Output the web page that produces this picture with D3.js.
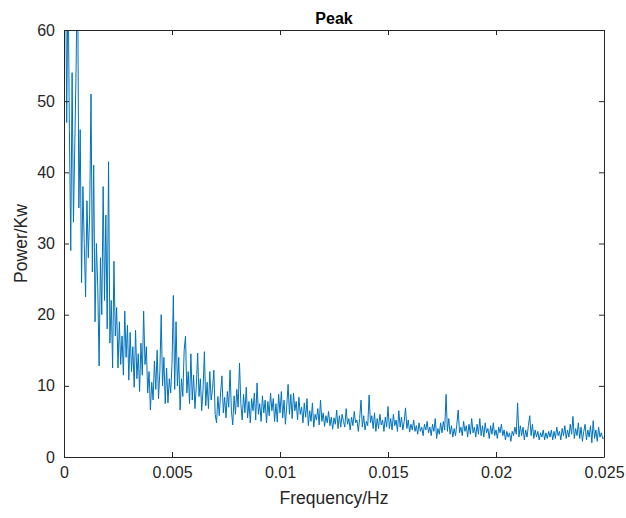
<!DOCTYPE html>
<html><head><meta charset="utf-8">
<script src="https://cdn.jsdelivr.net/npm/d3@7"></script>
<style>
html,body{margin:0;padding:0;background:#fff;}
svg{display:block;font-family:"Liberation Sans",Arial,Helvetica,sans-serif;}
</style></head>
<body><svg id="chart" width="626" height="518"></svg>
<script>
const chartTitle = "Peak";
const xLabel = "Frequency/Hz";
const yLabel = "Power/Kw";
const xTicks = [0, 0.005, 0.01, 0.015, 0.02, 0.025];
const xTickLabels = ["0", "0.005", "0.01", "0.015", "0.02", "0.025"];
const yTicks = [0, 10, 20, 30, 40, 50, 60];
const freqStep = 0.0000625; // Hz between spectrum samples
const power = [
52,75,47,68,46,29,54,33,44,55,72,35,46,24.5,38,30,22.5,36,28,34,
51,26,41,19,30,24,12.8,28,20,38,22,34,18,41.5,16,22,12.5,27.5,17,21,
12.5,19,13,17,11.5,20.5,14,18.5,10.8,17.5,12,15.5,9.8,17.8,11,14.5,9.2,16,11.5,20.5,
13,15.5,9,12,6.6,10.5,8,13.5,9.5,15,8.2,12,20,10,14,7.5,12.5,7.6,11,9,
13,22.7,9.5,19,10,14,6.6,11,8.5,15,17,9,12,7.5,14.5,8,11.5,6.8,10,14.6,
8.5,11,6.5,9.5,14.8,7.2,10.5,6.8,12,8,9.5,12.2,6,4.8,8.5,5.8,9,11.4,6.2,8.4,
5.5,9.2,7,12.2,6.5,4.5,8.6,6,9.5,7,13.2,7.5,5.2,8.8,6.2,9.8,5.5,7.8,4.8,8.2,
6.5,9,5.2,10.4,6,7.5,5,8.6,6.2,8,4.8,7.8,5.8,9,6.5,8.2,5,7.5,4.9,8.8,
6.2,9.2,5.5,8,4.6,7.2,10.2,6,8.8,5.4,9,6.5,7.8,5.2,8.4,6,7,4.8,7.6,5.6,
8.2,4.4,6.5,5,7.6,4.2,6,5.2,6.8,4.5,8,5,6.2,4.3,5.8,4.8,6.4,4.4,5.6,3.9,
5.5,4.6,6.6,4,5.8,4.2,6,5,4.2,6.8,4.6,5.4,3.8,5.6,4.4,6.4,4.8,5.2,3.6,5.4,
8,4.2,5.8,3.8,5,4.4,8.7,4.8,5.8,4,6.2,3.6,5.4,4,6,4.5,5.2,3.6,5.6,4.2,
7.1,4,5.4,3.8,6,4.4,5.2,3.6,6.5,4.2,5.6,3.8,5,6.9,4,5.2,3.5,4.6,3.8,5.2,
3.6,4.4,3.2,4.8,3.6,4.2,3,4.6,3.8,5,3.4,4.2,3,4.6,3.6,5.4,2.6,4,3.2,4.8,
3.4,5,3.8,8.8,3.6,5.4,3.2,4.4,2.8,4,3,4.6,6.6,3.4,4.2,3,5,3.6,4.4,2.8,
4.6,3.2,5.4,3.4,4.2,2.8,4.6,3.2,5.4,3,4.4,2.8,4.8,3.4,4,2.6,4.4,3.2,4.8,3,
3.8,2.6,4.2,3.4,4.6,3,3.8,2.4,3.6,2.8,3.4,2.2,3.6,3,4.2,3.2,7.6,2.8,4.4,3,
4.2,2.4,3.8,2.8,4.4,5.8,3,4.6,2.6,3.8,2.8,3.6,2.4,3.4,2.8,3.8,2.4,3.4,2.6,3.6,
2.8,3.8,2.4,3.6,2.6,4.2,3,3.6,2.4,4,3,4.4,2.6,3.8,2.8,4.6,3.2,5.7,2.6,4,
3,4.8,2.6,4.2,2.2,3.6,4.6,2.4,3.8,2.8,4.4,2,5.1,2.6,3.8,2.2,4.2,2.8,3.4,2.6,
2.7
];
const freq = power.map((_, i) => i * freqStep);

const svg = d3.select("#chart");
const m = {left: 64, top: 30, right: 604, bottom: 457};
const x = d3.scaleLinear().domain([0, 0.025]).range([m.left, m.right]);
const y = d3.scaleLinear().domain([0, 60]).range([m.bottom, m.top]);
const axisColor = "#262626";

svg.append("rect").attr("x", m.left).attr("y", m.top)
  .attr("width", m.right - m.left).attr("height", m.bottom - m.top).attr("fill", "#fff");

svg.append("clipPath").attr("id", "clip").append("rect")
  .attr("x", m.left).attr("y", m.top)
  .attr("width", m.right - m.left).attr("height", m.bottom - m.top);

const line = d3.line().x((d, i) => x(freq[i])).y(d => y(d));
svg.append("path").datum(power)
  .attr("clip-path", "url(#clip)")
  .attr("fill", "none").attr("stroke", "#0072BD").attr("stroke-width", 1)
  .attr("stroke-linejoin", "round")
  .attr("d", line);

const tl = 5;
const gx = svg.append("g").attr("transform", `translate(0,${m.bottom})`)
  .call(d3.axisBottom(x).tickValues(xTicks).tickFormat((d, i) => xTickLabels[i]).tickSizeInner(-tl).tickSizeOuter(0).tickPadding(10));
const gxt = svg.append("g").attr("transform", `translate(0,${m.top})`)
  .call(d3.axisTop(x).tickValues(xTicks).tickFormat("").tickSizeInner(-tl).tickSizeOuter(0));
const gy = svg.append("g").attr("transform", `translate(${m.left},0)`)
  .call(d3.axisLeft(y).tickValues(yTicks).tickFormat(d3.format("d")).tickSizeInner(-tl).tickSizeOuter(0).tickPadding(9));
const gyr = svg.append("g").attr("transform", `translate(${m.right},0)`)
  .call(d3.axisRight(y).tickValues(yTicks).tickFormat("").tickSizeInner(-tl).tickSizeOuter(0));

[gx, gxt, gy, gyr].forEach(g => {
  g.select(".domain").attr("stroke", axisColor).attr("stroke-width", 1);
  g.selectAll(".tick line").attr("stroke", axisColor).attr("stroke-width", 1);
  g.selectAll(".tick text").attr("fill", axisColor).style("font-size", "16px")
    .style("font-family", '"Liberation Sans",Arial,sans-serif');
});

svg.append("text").attr("x", (m.left + m.right) / 2).attr("y", 24)
  .attr("text-anchor", "middle").attr("font-weight", "bold").attr("font-size", 16)
  .attr("fill", "#000").text(chartTitle);
svg.append("text").attr("x", (m.left + m.right) / 2).attr("y", 504)
  .attr("text-anchor", "middle").attr("font-size", 17.5)
  .attr("fill", axisColor).text(xLabel);
svg.append("text").attr("transform", `translate(27,${(m.top + m.bottom) / 2}) rotate(-90)`)
  .attr("text-anchor", "middle").attr("font-size", 17.5)
  .attr("fill", axisColor).text(yLabel);
</script></body></html>
